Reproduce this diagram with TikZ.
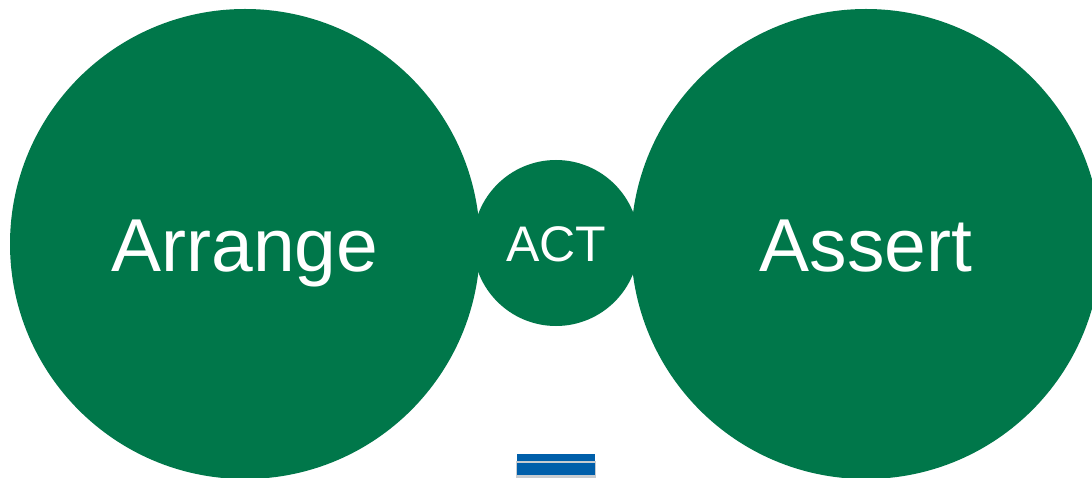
\documentclass[tikz,border=0pt]{standalone}
\usepackage{fontspec}
\setmainfont{Liberation Sans}
\definecolor{ggreen}{HTML}{00774A}
\definecolor{bblue}{HTML}{005FAA}
\definecolor{bgray}{HTML}{C8CCD0}
\tikzset{
  bigdisc/.style={circle, fill=ggreen, draw=none, inner sep=0pt, minimum size=470pt},
  smalldisc/.style={circle, fill=ggreen, draw=none, inner sep=0pt, minimum size=166pt},
  bigtxt/.style={text=white, anchor=base, inner sep=0pt, font=\fontsize{75}{80}\selectfont},
  smalltxt/.style={text=white, anchor=base, inner sep=0pt, font=\fontsize{50}{54}\selectfont},
}
\begin{document}
\begin{tikzpicture}[x=1pt,y=-1pt]
\useasboundingbox (0,0) rectangle (1092,478);
\clip (0,0) rectangle (1092,478);
\fill[white] (0,0) rectangle (1092,478);
\node[bigdisc] (arr) at (245,244) {};
\node[bigdisc] (ass) at (866,244) {};
\node[smalldisc] (act) at (556,243) {};
\node[bigtxt] (tarr) at (245,272) {Arrange};
\node[bigtxt] (tass) at (866,272) {Assert};
\node[smalltxt] (tact) at (556,262) {ACT};
\fill[bgray] (516,460.5) rectangle (596,478);
\fill[bblue] (517,454) rectangle (595,460.8);
\fill[bblue] (517,463) rectangle (595,475);
\end{tikzpicture}
\end{document}
